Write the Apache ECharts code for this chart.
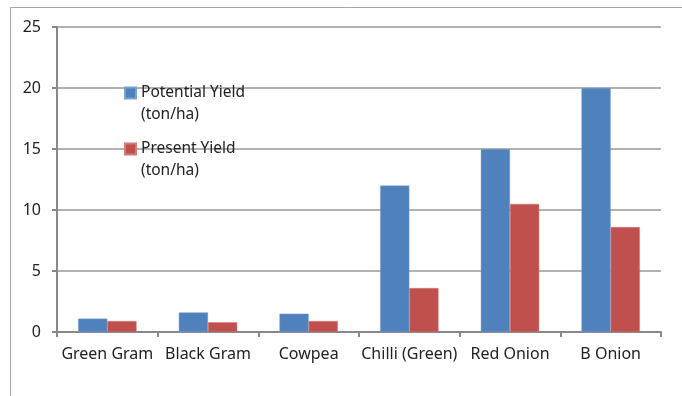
<!DOCTYPE html>
<html>
<head>
<meta charset="utf-8">
<script src="https://cdn.jsdelivr.net/npm/echarts@6/dist/echarts.min.js"></script>
<style>
  html, body { margin: 0; padding: 0; background: #fff; }
  #chart { width: 682px; height: 396px; }
</style>
</head>
<body>
<div id="chart"></div>
<script>
// Crop categories and yields (ton/ha)
const crops = ['Green Gram', 'Black Gram', 'Cowpea', 'Chilli (Green)', 'Red Onion', 'B Onion'];
const potentialYield = [1.1, 1.6, 1.5, 12, 15, 20];
const presentYield = [0.9, 0.8, 0.9, 3.6, 10.5, 8.6];
const seriesNames = ['Potential Yield', 'Present Yield'];
const unitLabel = '(ton/ha)';
const yTicks = { min: 0, max: 25, interval: 5 };

const font = 'Noto Sans, Liberation Sans, sans-serif';
const chart = echarts.init(document.getElementById('chart'), null, { renderer: 'canvas' });

chart.setOption({
  animation: false,
  backgroundColor: '#fff',
  textStyle: { fontFamily: font },
  graphic: [{
    type: 'rect',
    shape: { x: 10.5, y: 7.5, width: 700, height: 400 },
    style: { fill: 'none', stroke: '#a6a6a6', lineWidth: 1 },
    silent: true,
    z: -1
  }],
  grid: { left: 57, right: 21, top: 27, bottom: 64, containLabel: false },
  legend: {
    orient: 'vertical',
    left: 124,
    top: 63,
    padding: 0,
    itemWidth: 11,
    itemHeight: 11,
    itemGap: -4,
    icon: 'rect',
    // a blank first line keeps the swatch level with the series name
    formatter: name => '{s| }\n{t|' + name + '}\n{t|' + unitLabel + '}',
    textStyle: {
      fontSize: 15.5, color: '#222', fontFamily: font,
      rich: {
        s: { fontSize: 15.5, lineHeight: 22 },
        t: { fontSize: 15.5, lineHeight: 22, color: '#222', fontFamily: font }
      }
    },
    data: seriesNames
  },
  xAxis: {
    type: 'category',
    data: crops,
    axisLine: { lineStyle: { color: '#888', width: 2 } },
    axisTick: { show: true, length: 5, lineStyle: { color: '#888', width: 2 } },
    axisLabel: { color: '#222', fontSize: 16, margin: 14, interval: 0, fontFamily: font }
  },
  yAxis: {
    type: 'value',
    min: yTicks.min,
    max: yTicks.max,
    interval: yTicks.interval,
    axisLine: { show: true, lineStyle: { color: '#888', width: 2 } },
    axisTick: { show: true, inside: false, length: 5, lineStyle: { color: '#888', width: 2 } },
    axisLabel: { color: '#222', fontSize: 16, margin: 16, fontFamily: font },
    splitLine: { show: true, lineStyle: { color: '#999', width: 1.5 } }
  },
  series: [
    {
      name: seriesNames[0],
      type: 'bar',
      data: potentialYield,
      barCategoryGap: '42%',
      barGap: '0%',
      itemStyle: { color: '#4F81BD', borderColor: '#7a9fd0', borderWidth: 0.5 }
    },
    {
      name: seriesNames[1],
      type: 'bar',
      data: presentYield,
      itemStyle: { color: '#C0504D', borderColor: '#d27a78', borderWidth: 0.5 }
    }
  ]
});
</script>
</body>
</html>
